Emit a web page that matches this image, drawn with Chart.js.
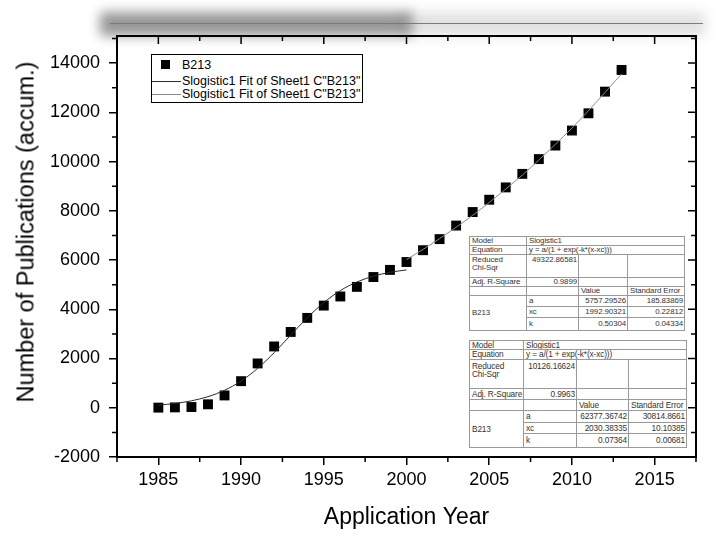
<!DOCTYPE html>
<html>
<head>
<meta charset="utf-8">
<script src="https://cdn.jsdelivr.net/npm/chart.js@4.4.1/dist/chart.umd.min.js"></script>
<style>
  html,body{margin:0;padding:0;background:#fff;}
  #wrap{position:relative;width:724px;height:546px;overflow:hidden;font-family:"Liberation Sans",Arial,sans-serif;}
  canvas{position:absolute;left:0;top:0;}
  .decor{position:absolute;}
  #ytitle{position:absolute;left:26px;top:232px;transform:translate(-50%,-50%) rotate(-90deg);white-space:nowrap;font-size:23.5px;color:#000;}
  #legend{position:absolute;left:151px;top:54px;width:210px;height:47px;border:1px solid #000;background:#fff;font-size:12.5px;color:#000;}
  #legend .row{position:absolute;left:0;height:14px;line-height:14px;white-space:nowrap;}
  #legend .sym{position:absolute;}
  #legend .txt{position:absolute;left:30px;top:0;}
  table.stat{position:absolute;border-collapse:collapse;table-layout:fixed;color:#333;background:#fff;border:1px solid #000;}
  table.stat td{border:1px solid #999;padding:0 1px 0 2px;overflow:hidden;white-space:nowrap;vertical-align:middle;}
  table.stat td.r{text-align:right;}
  table.stat td.top{vertical-align:top;white-space:normal;}
  #t1{left:469px;top:236px;width:215px;font-size:7.9px;line-height:8px;letter-spacing:-0.1px;}
  #t2{left:469px;top:340px;width:217px;font-size:8.3px;line-height:8.4px;letter-spacing:-0.15px;}
</style>
</head>
<body>
<div id="wrap">
  <div class="decor" style="left:400px;top:12px;width:305px;height:24px;background:#e2e2e2;filter:blur(6px);"></div>
  <div class="decor" style="left:100px;top:12px;width:312px;height:24px;background:#7e7e7e;filter:blur(6px);opacity:.8;"></div>
  <div class="decor" style="left:110px;top:23px;width:593px;height:1px;background:#7a7a7a;"></div>
  <canvas id="c" width="724" height="546"></canvas>
  <div id="ytitle">Number of Publications (accum.)</div>
  <div id="legend"></div>
  <table class="stat" id="t1">
    <colgroup><col style="width:57px"><col style="width:52px"><col style="width:49px"><col style="width:57px"></colgroup>
    <tr style="height:9px"><td>Model</td><td colspan="3">Slogistic1</td></tr>
    <tr style="height:8px"><td>Equation</td><td colspan="3">y = a/(1 + exp(-k*(x-xc)))</td></tr>
    <tr style="height:23px"><td class="top" style="padding-top:1px">Reduced<br>Chi-Sqr</td><td class="r top" style="padding-top:1px">49322.86581</td><td></td><td></td></tr>
    <tr style="height:9px"><td>Adj. R-Square</td><td class="r">0.9899</td><td></td><td></td></tr>
    <tr style="height:9px"><td></td><td></td><td>Value</td><td>Standard Error</td></tr>
    <tr style="height:11px"><td rowspan="3">B213</td><td>a</td><td class="r">5757.29526</td><td class="r">185.83869</td></tr>
    <tr style="height:11px"><td>xc</td><td class="r">1992.90321</td><td class="r">0.22812</td></tr>
    <tr style="height:13px"><td>k</td><td class="r">0.50304</td><td class="r">0.04334</td></tr>
  </table>
  <table class="stat" id="t2">
    <colgroup><col style="width:54px"><col style="width:53px"><col style="width:52px"><col style="width:58px"></colgroup>
    <tr style="height:9px"><td>Model</td><td colspan="3">Slogistic1</td></tr>
    <tr style="height:9px"><td>Equation</td><td colspan="3">y = a/(1 + exp(-k*(x-xc)))</td></tr>
    <tr style="height:29px"><td class="top" style="padding-top:2px">Reduced<br>Chi-Sqr</td><td class="r top" style="padding-top:2px">10126.16624</td><td></td><td></td></tr>
    <tr style="height:11px"><td>Adj. R-Square</td><td class="r">0.9963</td><td></td><td></td></tr>
    <tr style="height:11px"><td></td><td></td><td>Value</td><td>Standard Error</td></tr>
    <tr style="height:12px"><td rowspan="3">B213</td><td>a</td><td class="r">62377.36742</td><td class="r">30814.8661</td></tr>
    <tr style="height:11px"><td>xc</td><td class="r">2030.38335</td><td class="r">10.10385</td></tr>
    <tr style="height:14px"><td>k</td><td class="r">0.07364</td><td class="r">0.00681</td></tr>
  </table>
</div>
<script>
// ---- data ----
const years = [1985,1986,1987,1988,1989,1990,1991,1992,1993,1994,1995,1996,1997,1998,1999,2000,2001,2002,2003,2004,2005,2006,2007,2008,2009,2010,2011,2012,2013];
const publications = [5,15,30,140,500,1080,1800,2490,3080,3650,4150,4520,4910,5310,5600,5920,6400,6850,7400,7950,8450,8950,9500,10100,10650,11260,11960,12840,13720];

const fit1Years = [1985,1986,1987,1988,1989,1990,1991,1992,1993,1994,1995,1996,1997,1998,1999,2000];
const fit1Values = [106,173,282,451,710,1086,1599,2237,2951,3655,4271,4758,5108,5346,5501,5600];

const fit2Years = [2000,2001,2002,2003,2004,2005,2006,2007,2008,2009,2010,2011,2012,2013];
const fit2Values = [6017,6431,6868,7330,7817,8337,8885,9451,10061,10699,11362,12065,12808,13560];

const xTickLabels = [1985,1990,1995,2000,2005,2010,2015];
const yTickLabels = [-2000,0,2000,4000,6000,8000,10000,12000,14000];

const seriesLabels = ['B213', 'Slogistic1 Fit of Sheet1 C"B213"', 'Slogistic1 Fit of Sheet1 C"B213"'];
// ----------------------------------------------

const FONT = '"Liberation Sans", Arial, sans-serif';
const pts = (xs, ys) => xs.map((x, i) => ({x: x, y: ys[i]}));

const frameTicks = {
  id: 'frameTicks',
  afterDraw(chart) {
    const {ctx, chartArea: {left, right, top, bottom}, scales: {x, y}} = chart;
    ctx.save();
    ctx.strokeStyle = '#000';
    ctx.lineWidth = 2;
    ctx.beginPath();
    ctx.moveTo(left - 1, top);
    ctx.lineTo(right, top);
    ctx.lineTo(right, bottom + 1);
    ctx.stroke();
    ctx.lineWidth = 1.5;
    ctx.beginPath();
    const xt = x.ticks.map(t => t.value);
    xt.forEach(v => { const p = x.getPixelForValue(v); ctx.moveTo(p, top); ctx.lineTo(p, top + 8); });
    const xStep = xt[1] - xt[0];
    for (let v = xt[0] - xStep / 2; v <= x.max + 1e-9; v += xStep) {
      const p = x.getPixelForValue(v);
      ctx.moveTo(p, bottom); ctx.lineTo(p, bottom + 5);
      ctx.moveTo(p, top); ctx.lineTo(p, top + 5);
    }
    const yt = y.ticks.map(t => t.value);
    yt.forEach(v => { const p = y.getPixelForValue(v); ctx.moveTo(right, p); ctx.lineTo(right - 8, p); });
    const yStep = yt[1] - yt[0];
    for (let v = yt[0] + yStep / 2; v <= y.max; v += yStep) {
      const p = y.getPixelForValue(v);
      ctx.moveTo(left, p); ctx.lineTo(left - 5, p);
      ctx.moveTo(right, p); ctx.lineTo(right - 5, p);
    }
    ctx.stroke();
    ctx.restore();
  }
};

const chart = new Chart(document.getElementById('c'), {
  type: 'scatter',
  data: {
    datasets: [
      {
        label: seriesLabels[0],
        data: pts(years, publications),
        pointStyle: 'rect',
        pointRadius: 7,
        pointHoverRadius: 7,
        backgroundColor: '#000',
        borderColor: '#000',
        borderWidth: 0,
        showLine: false,
        order: 2
      },
      {
        label: seriesLabels[1],
        data: pts(fit1Years, fit1Values),
        showLine: true,
        borderColor: '#2a2a2a',
        borderWidth: 1,
        pointRadius: 0,
        cubicInterpolationMode: 'monotone',
        order: 1
      },
      {
        label: seriesLabels[2],
        data: pts(fit2Years, fit2Values),
        showLine: true,
        borderColor: '#8c8c8c',
        borderWidth: 1,
        pointRadius: 0,
        cubicInterpolationMode: 'monotone',
        order: 0
      }
    ]
  },
  options: {
    responsive: false,
    animation: false,
    devicePixelRatio: 1,
    layout: {padding: {top: 36, right: 28, left: 0, bottom: 0}},
    plugins: {legend: {display: false}, tooltip: {enabled: false}},
    scales: {
      x: {
        type: 'linear',
        min: 1982.5,
        max: 2017.5,
        afterBuildTicks: s => { s.ticks = xTickLabels.map(v => ({value: v})); },
        afterFit: s => { s.height = 89; },
        ticks: {font: {family: FONT, size: 18}, color: '#000', padding: 4, callback: v => String(v)},
        grid: {display: true, drawOnChartArea: false, drawTicks: true, tickLength: 8, color: '#000', lineWidth: 1.5},
        border: {display: true, color: '#000', width: 2},
        title: {display: true, text: 'Application Year', font: {family: FONT, size: 23}, color: '#000', padding: {top: 0, bottom: 15}}
      },
      y: {
        type: 'linear',
        min: -2000,
        max: 15100,
        afterBuildTicks: s => { s.ticks = yTickLabels.map(v => ({value: v})); },
        afterFit: s => { s.width = 117; },
        ticks: {font: {family: FONT, size: 18}, color: '#000', padding: 9, callback: v => String(v)},
        grid: {display: true, drawOnChartArea: false, drawTicks: true, tickLength: 8, color: '#000', lineWidth: 1.5},
        border: {display: true, color: '#000', width: 2}
      }
    }
  },
  plugins: [frameTicks]
});

// legend built from the dataset labels
const legend = document.getElementById('legend');
const rowsTop = [3, 19, 32];
chart.data.datasets.forEach((ds, i) => {
  const row = document.createElement('div');
  row.className = 'row';
  row.style.top = rowsTop[i] + 'px';
  const sym = document.createElement('div');
  sym.className = 'sym';
  if (i === 0) {
    Object.assign(sym.style, {left: '9px', top: '2px', width: '9px', height: '9px', background: '#000'});
  } else {
    Object.assign(sym.style, {left: '0px', top: '7px', width: '29px', height: '1px', background: ds.borderColor});
  }
  const txt = document.createElement('div');
  txt.className = 'txt';
  txt.textContent = ds.label;
  row.appendChild(sym);
  row.appendChild(txt);
  legend.appendChild(row);
});
</script>
</body>
</html>
